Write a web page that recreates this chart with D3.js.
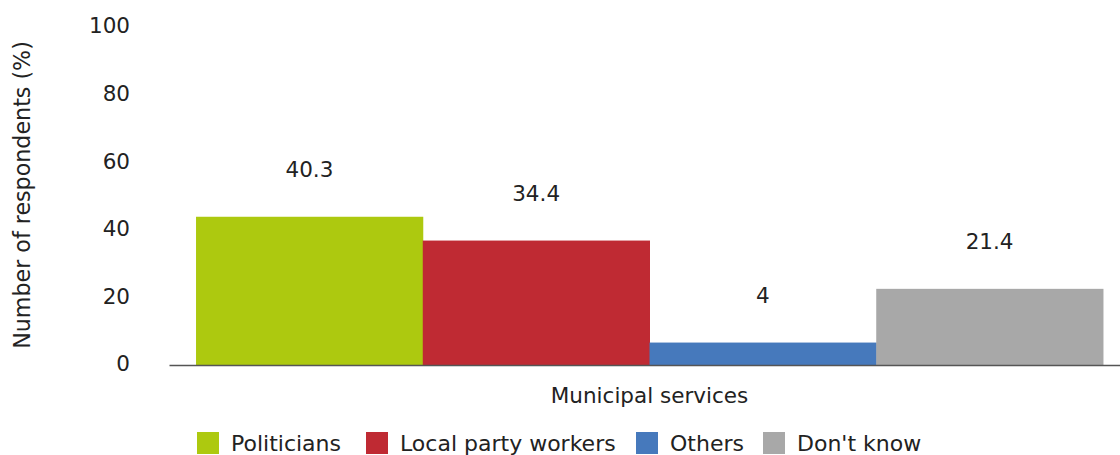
<!DOCTYPE html>
<html>
<head>
<meta charset="utf-8">
<script src="https://cdn.jsdelivr.net/npm/d3@7"></script>
<style>
  body{margin:0;background:#fff;}
  text{font-family:"DejaVu Sans",sans-serif;fill:#222;}
</style>
</head>
<body>
<div id="chart"></div>
<script>
// data
var category = ["Municipal services"];
var series = ["Politicians","Local party workers","Others","Don't know"];
var barvalues = [43.6,36.6,6.6,22.4];   // bar heights as drawn
var barlabels = ["40.3","34.4","4","21.4"]; // printed labels
var colors = ["#adc90f","#bf2a33","#4679bc","#a8a8a8"];
var yticks = [0,20,40,60,80,100];

var width=1120;
var height=455;
var fs=21.5;

var svg = d3.select("#chart")
    .append("svg")
    .attr("width",width)
    .attr("height",height);

var x0 = d3.scaleBand()
    .domain(category)
    .range([169,1130])
    .paddingOuter(0.0298)
    .paddingInner(0);

var x1 = d3.scaleBand()
    .domain(series)
    .range([0,x0.bandwidth()]);

var yScale = d3.scaleLinear()
    .domain([0,100])
    .range([365,25]);

// tick labels sit on a slightly wider scale than the bars
var yLabelScale = d3.scaleLinear()
    .domain([0,100])
    .range([364,26]);

var yAxis = d3.axisLeft(yLabelScale)
    .tickValues(yticks)
    .tickSize(0)
    .tickPadding(0);

var gy = svg.append("g")
    .attr("transform","translate(130,0)")
    .call(yAxis);
gy.select(".domain").remove();
gy.selectAll("text")
    .attr("font-size",fs)
    .attr("font-family","DejaVu Sans")
    .attr("fill","#222");

svg.append("text")
    .attr("transform","translate(30,195) rotate(-90)")
    .attr("text-anchor","middle")
    .attr("font-size",22.2)
    .text("Number of respondents (%)");

var g = svg.append("g")
    .attr("transform","translate("+x0(category[0])+",0)");

g.selectAll("rect")
    .data(series)
    .enter()
    .append("rect")
    .attr("x",function(d){return x1(d);})
    .attr("y",function(d,i){return yScale(barvalues[i]);})
    .attr("width",x1.bandwidth()+0.5)
    .attr("height",function(d,i){return yScale(0)-yScale(barvalues[i]);})
    .attr("fill",function(d,i){return colors[i];});

g.selectAll(".vlabel")
    .data(series)
    .enter()
    .append("text")
    .attr("class","vlabel")
    .attr("text-anchor","middle")
    .attr("font-size",fs)
    .attr("x",function(d){return x1(d)+x1.bandwidth()/2;})
    .attr("y",function(d,i){return yScale(barvalues[i])-40;})
    .text(function(d,i){return barlabels[i];});

var xAxis = d3.axisBottom(x0)
    .tickSize(0)
    .tickPadding(0);
var gx = svg.append("g")
    .attr("transform","translate(0,365)")
    .call(xAxis);
gx.select(".domain")
    .attr("stroke","#555")
    .attr("stroke-width",1.5);
gx.selectAll("text")
    .attr("font-size",fs)
    .attr("font-family","DejaVu Sans")
    .attr("fill","#222")
    .attr("dy",0)
    .attr("y",38);

// legend
var legendx = [197,366,636,763];
var legend = svg.append("g");
legend.selectAll("rect")
    .data(series)
    .enter()
    .append("rect")
    .attr("x",function(d,i){return legendx[i];})
    .attr("y",432)
    .attr("width",22)
    .attr("height",22)
    .attr("fill",function(d,i){return colors[i];});
legend.selectAll("text")
    .data(series)
    .enter()
    .append("text")
    .attr("x",function(d,i){return legendx[i]+34;})
    .attr("y",451)
    .attr("font-size",22)
    .text(function(d){return d;});
</script>
</body>
</html>
